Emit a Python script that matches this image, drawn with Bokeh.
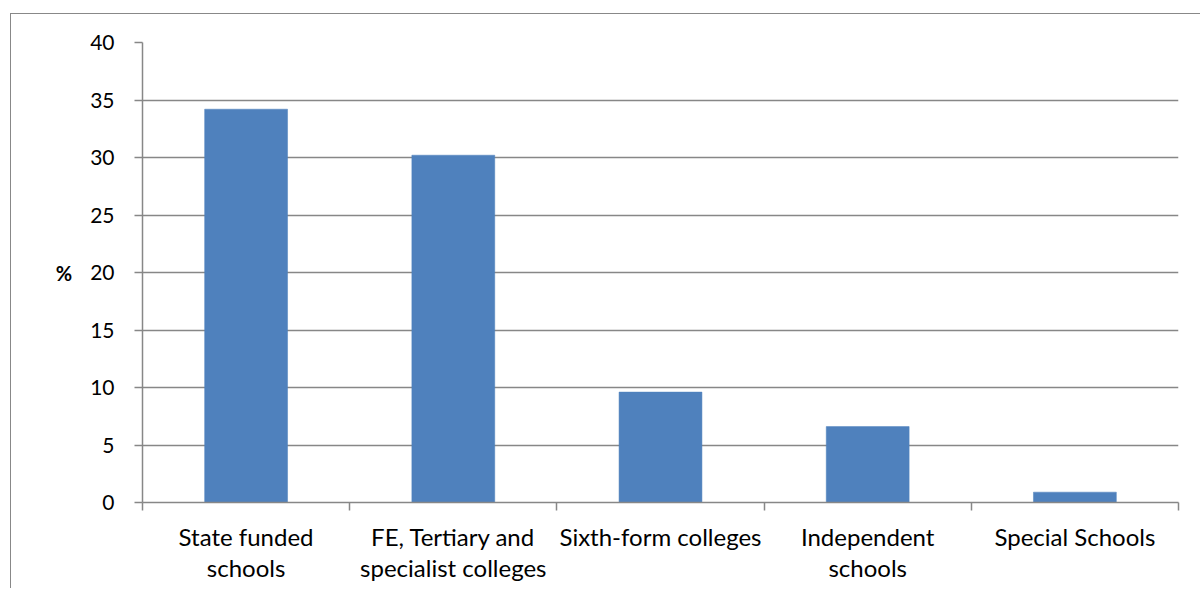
from bokeh.plotting import figure
from bokeh.models import FixedTicker, Range1d
from bokeh.embed import file_html
from bokeh.resources import INLINE

# Share of pupils by type of institution (%)
categories = [
    "State funded\nschools",
    "FE, Tertiary and\nspecialist colleges",
    "Sixth-form colleges",
    "Independent\nschools",
    "Special Schools",
]
values = [34.2, 30.2, 9.6, 6.6, 0.9]
y_ticks = [0, 5, 10, 15, 20, 25, 30, 35, 40]

FONT = "Lato"
GRID = "#878787"
BAR = "#4f81bd"

n = len(categories)
centers = [i + 0.5 for i in range(n)]

p = figure(
    width=1190, height=575,
    x_range=Range1d(0, n), y_range=Range1d(0, 40),
    output_backend="svg", toolbar_location=None,
    min_border_left=131, min_border_right=23,
    min_border_top=28, min_border_bottom=87,
    styles={
        "position": "absolute", "left": "10px", "top": "13px",
        "border-left": "1px solid #888888", "border-top": "1px solid #888888",
    },
)
p.outline_line_color = None
p.background_fill_color = "white"
p.border_fill_color = "white"

p.vbar(x=centers, top=values, width=0.4, fill_color=BAR, line_color=BAR, line_width=0.5)

# y axis
p.yaxis.ticker = FixedTicker(ticks=y_ticks, minor_ticks=[])
p.yaxis.major_tick_out = 8
p.yaxis.major_tick_in = 0
p.yaxis.axis_line_color = GRID
p.yaxis.axis_line_width = 1.5
p.yaxis.major_tick_line_color = GRID
p.yaxis.major_tick_line_width = 1.5
p.yaxis.major_label_text_font = FONT
p.yaxis.major_label_text_font_size = "21px"
p.yaxis.major_label_text_color = "black"
p.yaxis.major_label_standoff = 20
p.yaxis.axis_label = "%"
p.yaxis.axis_label_orientation = "horizontal"
p.yaxis.axis_label_text_font = FONT
p.yaxis.axis_label_text_font_size = "20px"
p.yaxis.axis_label_text_font_style = "bold"
p.yaxis.axis_label_text_color = "black"
p.yaxis.axis_label_standoff = 15

# x axis: labels at category centres, ticks on category boundaries
p.xaxis.ticker = FixedTicker(ticks=centers, minor_ticks=list(range(n + 1)))
p.xaxis.major_label_overrides = {c: lab for c, lab in zip(centers, categories)}
p.xaxis.major_tick_out = 0
p.xaxis.major_tick_in = 0
p.xaxis.minor_tick_out = 8
p.xaxis.minor_tick_in = 0
p.xaxis.minor_tick_line_color = GRID
p.xaxis.minor_tick_line_width = 1.5
p.xaxis.axis_line_color = GRID
p.xaxis.axis_line_width = 1.5
p.xaxis.major_label_text_font = FONT
p.xaxis.major_label_text_font_size = "24px"
p.xaxis.major_label_text_color = "black"
p.xaxis.major_label_text_line_height = 1.07
p.xaxis.major_label_standoff = 11

p.xgrid.grid_line_color = None
p.ygrid.ticker = FixedTicker(ticks=y_ticks)
p.ygrid.grid_line_color = GRID
p.ygrid.grid_line_width = 1.5

open("out.html", "w").write(file_html(p, INLINE))
